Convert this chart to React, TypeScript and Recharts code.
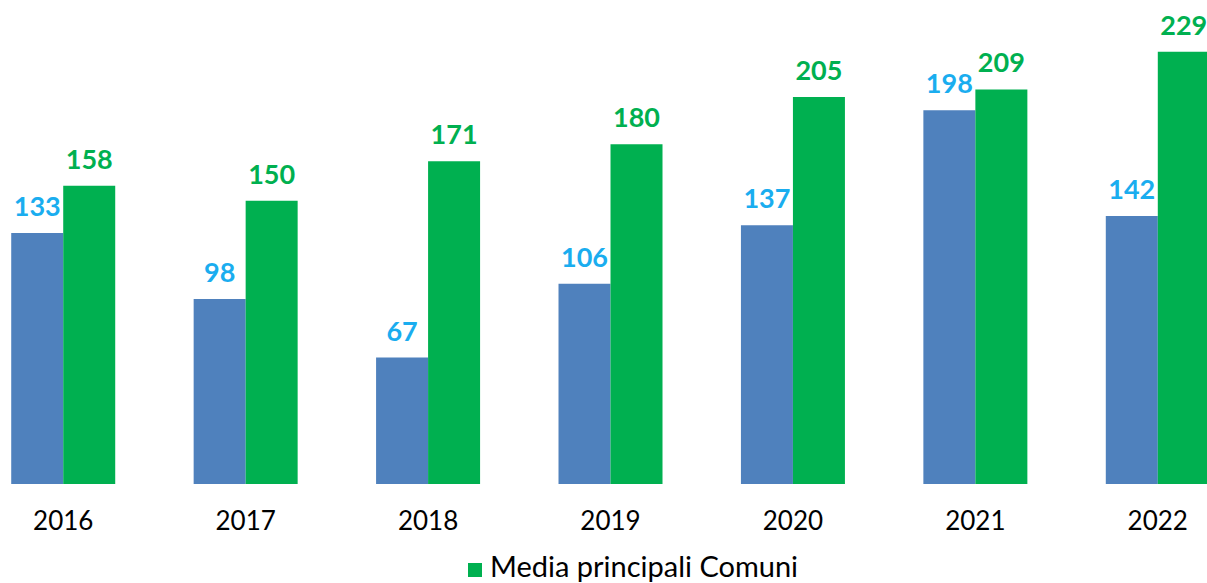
import React from 'react';
import { BarChart, Bar, XAxis, YAxis, Legend, LabelList } from 'recharts';

const years = ['2016', '2017', '2018', '2019', '2020', '2021', '2022'];
const cityValues = [133, 98, 67, 106, 137, 198, 142];
const avgValues = [158, 150, 171, 180, 205, 209, 229];

const data = years.map((year, i) => ({
    year,
    city: cityValues[i],
    avg: avgValues[i],
}));

const FONT = 'Lato, "Open Sans", sans-serif';

const App = () => {
    return (
        <div
            style={{
                position: 'fixed',
                top: 0,
                left: 0,
                width: 1207,
                height: 583,
                overflow: 'hidden',
                background: '#ffffff',
                fontFamily: FONT,
            }}
        >
            <div style={{ position: 'absolute', top: 0, left: -28.5 }}>
                <BarChart
                    width={1277}
                    height={583}
                    data={data}
                    margin={{ top: 12, right: 0, bottom: 0, left: 0 }}
                    barCategoryGap="21.5%"
                    barGap={0}
                >
                    <XAxis
                        dataKey="year"
                        axisLine={false}
                        tickLine={false}
                        height={60}
                        tick={{ fill: '#000000', fontSize: 26, fontFamily: FONT }}
                        dy={20}
                    />
                    <YAxis hide domain={[0, 250]} />
                    <Legend
                        verticalAlign="bottom"
                        height={35}
                        iconType="square"
                        iconSize={14}
                        wrapperStyle={{
                            fontSize: 29,
                            fontFamily: FONT,
                            color: '#000000',
                            paddingLeft: 28,
                            paddingTop: 4,
                        }}
                        formatter={(value) => (
                            <span style={{ color: '#000000', marginLeft: 4 }}>{value}</span>
                        )}
                    />
                    <Bar
                        dataKey="city"
                        name="Comune"
                        fill="#4F81BD"
                        legendType="none"
                        isAnimationActive={false}
                    >
                        <LabelList
                            dataKey="city"
                            position="top"
                            offset={17}
                            fill="#1AADEF"
                            fontSize={27}
                            fontWeight="bold"
                            fontFamily={FONT}
                        />
                    </Bar>
                    <Bar
                        dataKey="avg"
                        name="Media principali Comuni"
                        fill="#00B050"
                        isAnimationActive={false}
                    >
                        <LabelList
                            dataKey="avg"
                            position="top"
                            offset={17}
                            fill="#00B050"
                            fontSize={27}
                            fontWeight="bold"
                            fontFamily={FONT}
                        />
                    </Bar>
                </BarChart>
            </div>
        </div>
    );
};

export default App;
